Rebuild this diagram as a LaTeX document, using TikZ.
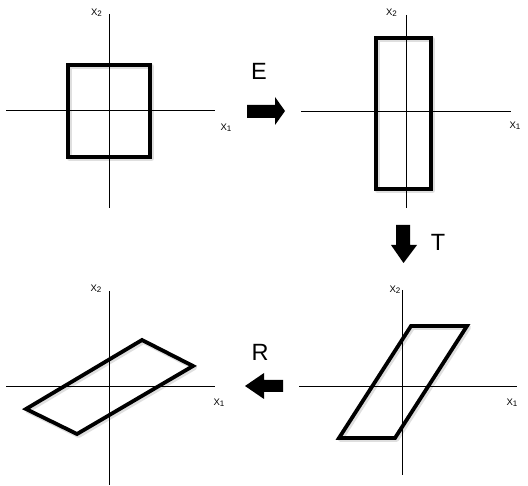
\documentclass[tikz,border=0pt]{standalone}
\usepackage{fontspec}
\setmainfont{Liberation Sans}
\newcommand{\axlab}[1]{{\fontsize{9.5}{10}\selectfont X\raisebox{-0.8pt}{\fontsize{8}{9}\selectfont #1}}}
\begin{document}
\begin{tikzpicture}[x=1pt,y=-1pt,
  axisline/.style={line width=1pt,black},
  figline/.style={line width=3.8pt,black,line join=miter},
  figshadow/.style={line width=5pt,black!25,opacity=0.5,line join=round,shift={(1.5,1.5)}},
  blockarrow/.style={fill=black,draw=none},
  lab/.style={inner sep=0pt,anchor=center},
  biglab/.style={inner sep=0pt,font=\fontsize{23.5}{24}\selectfont}]
\useasboundingbox (0,0) rectangle (528,486);
% ---------- panel 1
\coordinate (a1l) at (6,110.5); \coordinate (a1r) at (215,110.5);
\coordinate (a1t) at (109.5,14); \coordinate (a1b) at (109.5,208);
\draw[figshadow] (68,65) rectangle (150,157);
\draw[axisline] (a1l) -- (a1r); \draw[axisline] (a1t) -- (a1b);
\draw[figline] (68,65) rectangle (150,157);
\node[lab] (x2a) at (96.5,13) {\axlab{2}};
\node[lab] (x1a) at (226,127.5) {\axlab{1}};
% ---------- panel 2
\coordinate (a2l) at (301,112); \coordinate (a2r) at (511,112);
\coordinate (a2t) at (406,15); \coordinate (a2b) at (406,208);
\draw[figshadow] (376,38) rectangle (431,189);
\draw[axisline] (a2l) -- (a2r); \draw[axisline] (a2t) -- (a2b);
\draw[figline] (376,38) rectangle (431,189);
\node[lab] (x2b) at (391.5,13) {\axlab{2}};
\node[lab] (x1b) at (515,126) {\axlab{1}};
% ---------- panel 3
\coordinate (a3l) at (6,387); \coordinate (a3r) at (215,387);
\coordinate (a3t) at (109.5,291); \coordinate (a3b) at (109.5,485);
\draw[figshadow] (142,340) -- (193,366) -- (77,434) -- (26,409) -- cycle;
\draw[axisline] (a3l) -- (a3r); \draw[axisline] (a3t) -- (a3b);
\draw[figline] (142,340) -- (193,366) -- (77,434) -- (26,409) -- cycle;
\node[lab] (x2c) at (96,289) {\axlab{2}};
\node[lab] (x1c) at (219,403) {\axlab{1}};
% ---------- panel 4
\coordinate (a4l) at (299,387); \coordinate (a4r) at (517,387);
\coordinate (a4t) at (402,290); \coordinate (a4b) at (402,475);
\draw[figshadow] (411,326) -- (467,326) -- (395,438) -- (339,438) -- cycle;
\draw[axisline] (a4l) -- (a4r); \draw[axisline] (a4t) -- (a4b);
\draw[figline] (411,326) -- (467,326) -- (395,438) -- (339,438) -- cycle;
\node[lab] (x2d) at (395,290) {\axlab{2}};
\node[lab] (x1d) at (512,403) {\axlab{1}};
% ---------- block arrows
\fill[blockarrow] (247,105) -- (275,105) -- (275,97) -- (285,111) -- (275,125) -- (275,118) -- (247,118) -- cycle;
\node[biglab] (E) at (259,71.5) {E};
\fill[blockarrow] (396,225) -- (410,225) -- (410,245) -- (417,245) -- (403.5,263) -- (391,245) -- (396,245) -- cycle;
\node[biglab] (T) at (438,242) {T};
\fill[blockarrow] (283,380) -- (264,380) -- (264,373) -- (245,386) -- (264,399) -- (264,392) -- (283,392) -- cycle;
\node[biglab] (R) at (260,352) {R};
\end{tikzpicture}
\end{document}
